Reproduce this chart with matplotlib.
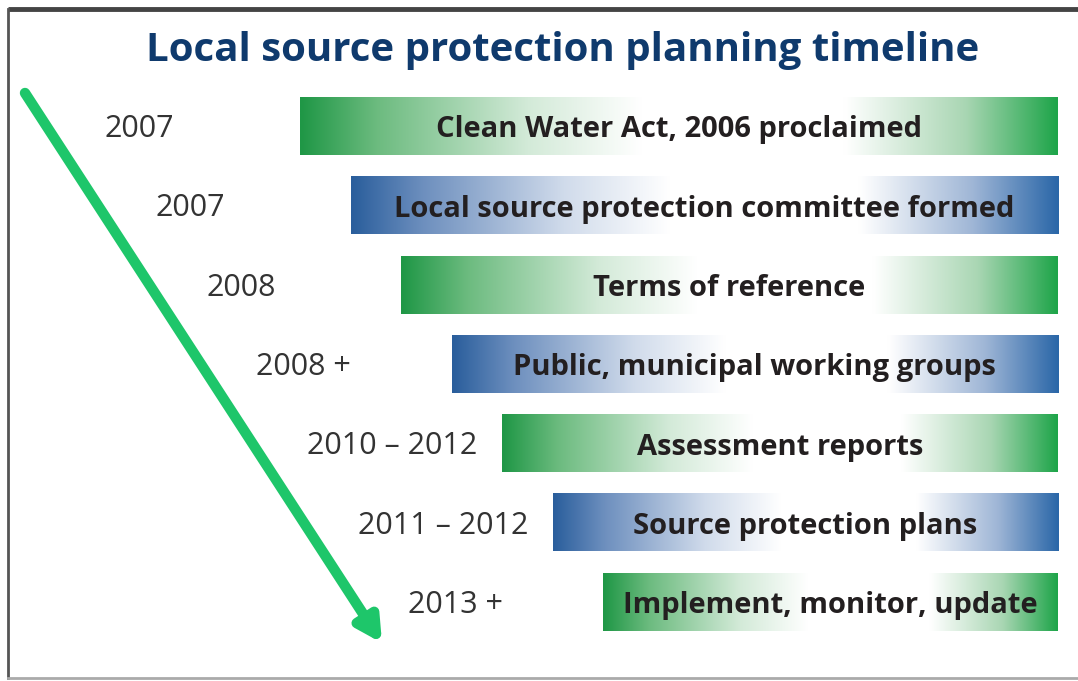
import numpy as np
import matplotlib.pyplot as plt
from matplotlib.colors import LinearSegmentedColormap

title = "Local source protection planning timeline"
years = ["2007", "2007", "2008", "2008 +", "2010 \u2013 2012", "2011 \u2013 2012", "2013 +"]
steps = ["Clean Water Act, 2006 proclaimed",
         "Local source protection committee formed",
         "Terms of reference",
         "Public, municipal working groups",
         "Assessment reports",
         "Source protection plans",
         "Implement, monitor, update"]
bar_kind = ["green", "blue", "green", "blue", "green", "blue", "green"]

plt.rcParams['font.family'] = ['Open Sans', 'DejaVu Sans']

# gradient: dark at both ends, white in the middle
cmaps = {
    "green": LinearSegmentedColormap.from_list("g", [(0, "#1f9746"), (0.1, "#6cbb7f"), (0.3, "#d3ead8"),
                                                     (0.45, "#ffffff"), (0.72, "#ffffff"), (0.88, "#a9d6b3"),
                                                     (1, "#1fa54a")]),
    "blue": LinearSegmentedColormap.from_list("b", [(0, "#2a5e9c"), (0.1, "#6d8fbe"), (0.3, "#d0dbeb"),
                                                    (0.45, "#ffffff"), (0.72, "#ffffff"), (0.88, "#9fb6d6"),
                                                    (1, "#2b67a8")]),
}

fig = plt.figure(figsize=(10.78, 6.81), dpi=100)
ax = fig.add_axes([0, 0, 1, 1])
ax.set_xlim(0, 1078)
ax.set_ylim(681, 0)
ax.axis("off")

# frame
ax.plot([8, 1078], [9, 9], color="#444444", lw=3.5, solid_capstyle="butt")
ax.plot([8, 8], [9, 678], color="#555555", lw=2)
ax.plot([8, 1078], [678, 678], color="#aaaaaa", lw=2)

ax.text(563, 50, title, ha="center", va="center", fontsize=29, fontweight="bold", color="#0f3a6d")

grad = np.linspace(0, 1, 256).reshape(1, -1)
right = 1058
bar_h = 58
for i, (yr, txt, kind) in enumerate(zip(years, steps, bar_kind)):
    left = 300 + 50.5 * i
    top = 97 + 79.3 * i
    ax.imshow(grad, cmap=cmaps[kind], aspect="auto",
              extent=[left, right, top + bar_h, top], interpolation="bilinear")
    ax.text((left + right) / 2, top + bar_h / 2 + 4, txt, ha="center", va="center",
            fontsize=21, fontweight="bold", color="#231f20")
    ax.text(left - 195, top + bar_h / 2 + 3, yr, ha="left", va="center",
            fontsize=22, color="#333333")

ax.annotate("", xy=(382, 643), xytext=(25, 93),
            arrowprops=dict(arrowstyle="-|>,head_length=1.4,head_width=0.75", color="#1ec66a",
                            lw=7.5, shrinkA=0, shrinkB=0))

ax.set_xlim(0, 1078)
ax.set_ylim(681, 0)
plt.savefig("out.png", dpi=100)
